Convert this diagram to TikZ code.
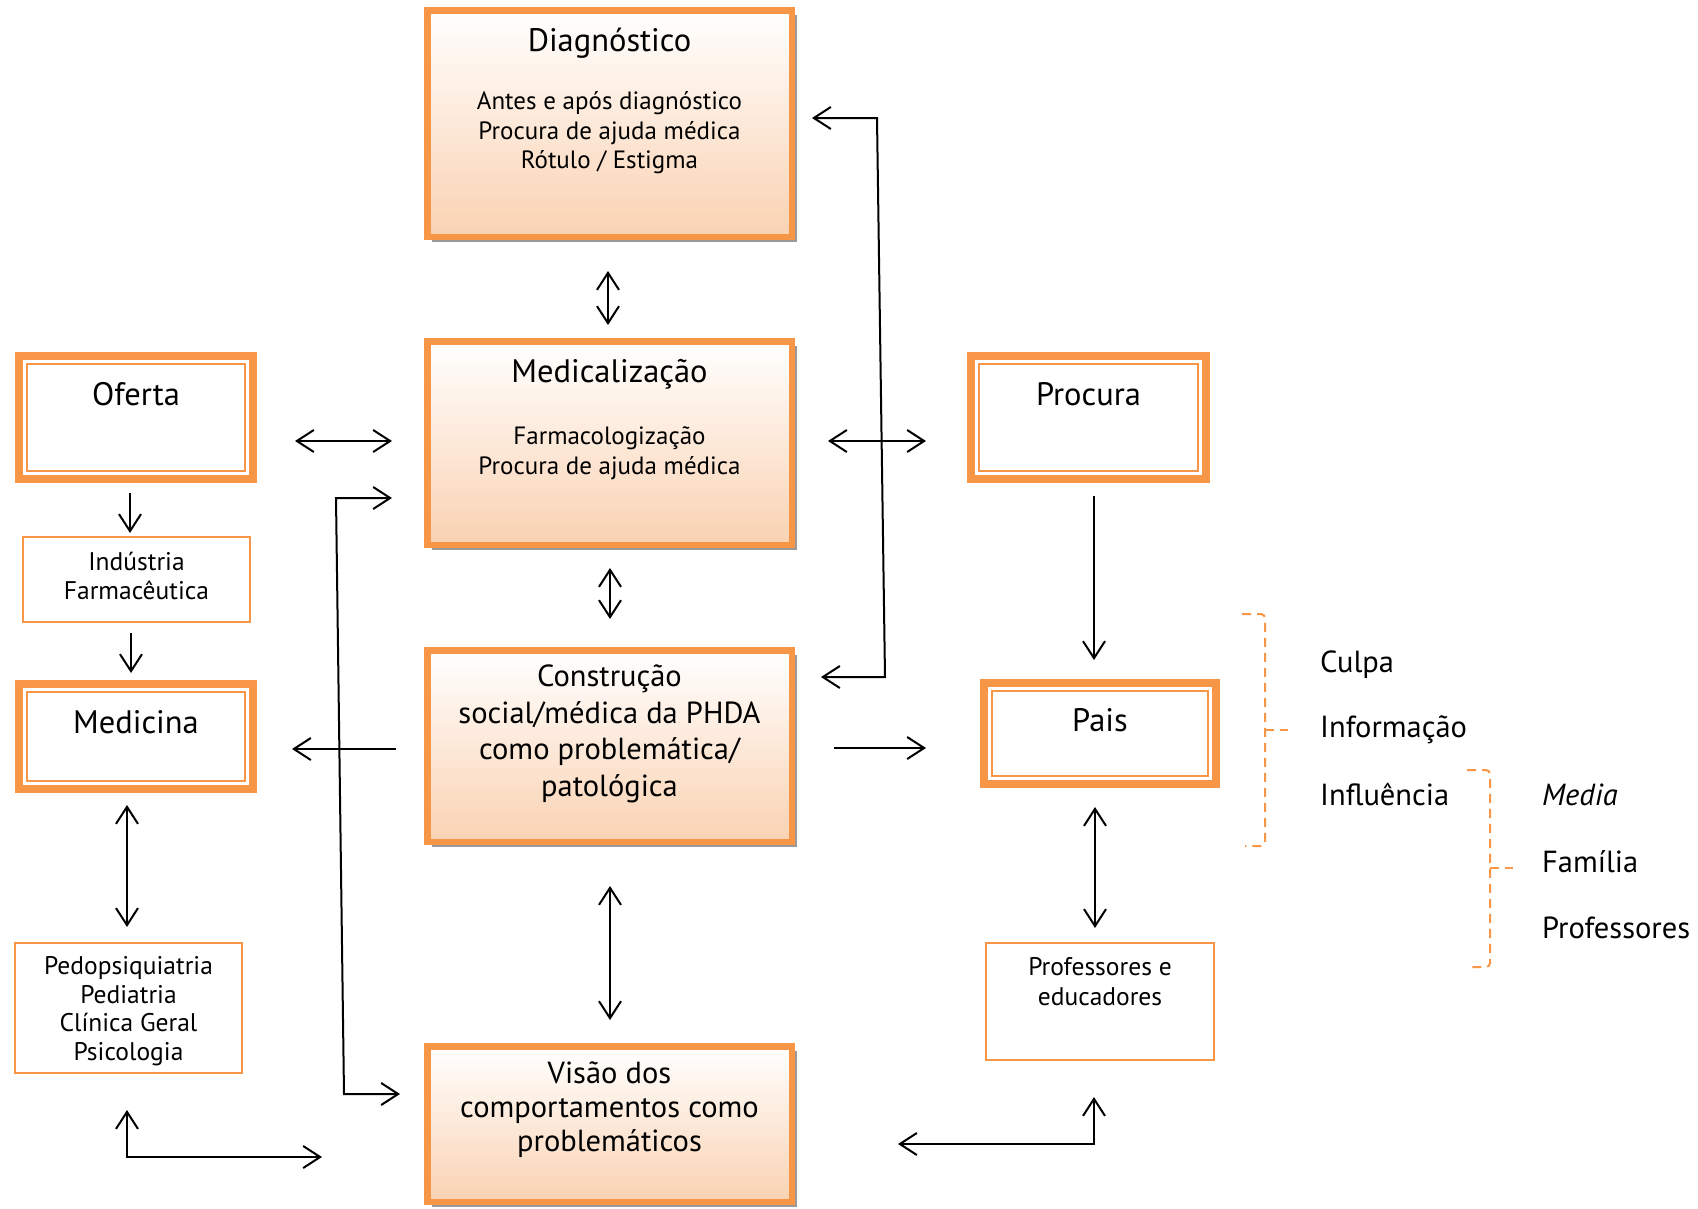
\documentclass[tikz,border=0pt]{standalone}
\usepackage{fontspec}
\setmainfont{PT Sans}
\usetikzlibrary{arrows.meta,calc,shadows}
\definecolor{org}{HTML}{F79646}
\definecolor{peach}{HTML}{FAD2B2}
\begin{document}
\begin{tikzpicture}[x=1pt,y=-1pt,
  >={Straight Barb[length=17pt,width=22pt]},
  conn/.style={line width=2pt, line join=miter},
  mainbox/.style={draw=org, line width=6.5pt, top color=white, bottom color=peach, inner sep=0pt,
    minimum width=364.5pt,
    drop shadow={shadow xshift=5pt, shadow yshift=-5pt, fill=black!40, opacity=1}},
  dblbox/.style={draw=org, line width=8pt, fill=white, inner sep=0pt},
  thinbox/.style={draw=org, line width=1.6pt, fill=white, inner sep=0pt, minimum width=227.5pt},
  ttl/.style={font=\fontsize{32.5}{38}\selectfont, inner sep=0pt},
  sub/.style={font=\fontsize{25}{29.5}\selectfont, align=center, inner sep=0pt},
  big/.style={font=\fontsize{30.5}{36.5}\selectfont, align=center, inner sep=0pt},
  small/.style={font=\fontsize{25.5}{29}\selectfont, align=center, inner sep=0pt},
  side/.style={font=\fontsize{30.5}{36}\selectfont, anchor=west, inner sep=0pt},
  brk/.style={draw=org, line width=2pt, dash pattern=on 9pt off 6pt, rounded corners=4pt},
]
\path[use as bounding box, fill=white] (0,0) rectangle (1698,1208);

% main boxes
\node[mainbox, minimum height=226.5pt] (diag) at (609.5,123.5) {};
\node[mainbox, minimum height=203.5pt] (medic) at (609.5,443) {};
\node[mainbox, minimum height=191.5pt] (constr) at (609.5,746) {};
\node[mainbox, minimum height=155.5pt] (visao) at (609.5,1124) {};

\node[ttl] (diagT) at (609.5,43) {Diagnóstico};
\node[sub] (diagS) at (609.5,133) {Antes e após diagnóstico\\Procura de ajuda médica\\Rótulo / Estigma};
\node[ttl] (medicT) at (609.5,374) {Medicalização};
\node[sub] (medicS) at (609.5,453) {Farmacologização\\Procura de ajuda médica};
\node[big] (constrT) at (609.5,734) {Construção\\social/médica da PHDA\\como problemática/\\patológica};
\node[big, font=\fontsize{30.5}{34}\selectfont] (visaoT) at (609.5,1110) {Visão dos\\comportamentos como\\problemáticos};

% double boxes
\node[dblbox, minimum width=234pt, minimum height=123pt] (oferta) at (136,417.5) {};
\node[dblbox, minimum width=234pt, minimum height=105pt] (medicina) at (136,736.5) {};
\node[dblbox, minimum width=235pt, minimum height=123pt] (procura) at (1088.5,417.5) {};
\node[dblbox, minimum width=232pt, minimum height=101pt] (pais) at (1100,733.5) {};
\foreach \b in {oferta,medicina,procura,pais}
  \draw[org, line width=1.5pt] ([shift={(12,12)}]\b.north west) rectangle ([shift={(-12,-12)}]\b.south east);
\node[ttl] (ofertaT) at ($(oferta.north)+(0,42)$) {Oferta};
\node[ttl] (medicinaT) at ($(medicina.north)+(0,42)$) {Medicina};
\node[ttl] (procuraT) at ($(procura.north)+(0,42)$) {Procura};
\node[ttl] (paisT) at ($(pais.north)+(0,41)$) {Pais};

% thin boxes
\node[thinbox, minimum height=85.5pt] (ind) at (136.5,579.5) {};
\node[small] (indT) at (136.5,576) {Indústria\\Farmacêutica};
\node[thinbox, minimum height=130.5pt] (pedo) at (128.5,1008) {};
\node[small, font=\fontsize{25.5}{28.5}\selectfont] (pedoT) at (128.5,1011) {Pedopsiquiatria\\Pediatria\\Clínica Geral\\Psicologia};
\node[thinbox, minimum width=228.5pt, minimum height=117.5pt] (prof) at (1100,1001.5) {};
\node[small, font=\fontsize{25.5}{30}\selectfont] (profT) at (1100,982) {Professores e\\educadores};

% connectors
\draw[conn,<->, shorten <=31pt, shorten >=13pt] (diag.south -| 608,0) -- (medic.north -| 608,0);
\draw[conn,<->, shorten <=20pt, shorten >=28pt] (medic.south -| 610,0) -- (constr.north -| 610,0);
\draw[conn,<->, shorten <=41pt, shorten >=23pt] (constr.south -| 610,0) -- (visao.north -| 610,0);
\draw[conn,<->, shorten <=38pt, shorten >=32pt] (oferta.east |- 0,441) -- (medic.west |- 0,441);
\draw[conn,<->, shorten <=33pt, shorten >=41pt] (medic.east |- 0,441) -- (procura.west |- 0,441);

\coordinate (lc1) at (336,498);
\coordinate (lc2) at (344,1094);
\draw[conn,<->, shorten <=32pt, shorten >=24pt] (medic.west |- lc1) -- (lc1) -- (lc2) -- (visao.west |- lc2);

\coordinate (rc1) at (877,118);
\coordinate (rc2) at (885,677);
\draw[conn,<->, shorten <=17pt, shorten >=26pt] (diag.east |- rc1) -- (rc1) -- (rc2) -- (constr.east |- rc2);

\draw[conn,->, shorten <=13pt, shorten >=19pt] (procura.south -| 1094,0) -- (pais.north -| 1094,0);
\draw[conn,->, shorten <=39pt, shorten >=54pt] (constr.east |- 0,748) -- (pais.west |- 0,748);
\draw[conn,->, shorten <=28pt, shorten >=35pt] (constr.west |- 0,749) -- (medicina.east |- 0,749);
\draw[conn,->, shorten <=10pt, shorten >=3pt] (oferta.south -| 130,0) -- (ind.north -| 130,0);
\draw[conn,->, shorten <=10pt, shorten >=7pt] (ind.south -| 131,0) -- (medicina.north -| 131,0);
\draw[conn,<->, shorten <=12pt, shorten >=15pt] (medicina.south -| 127,0) -- (pedo.north -| 127,0);
\draw[conn,<->, shorten <=19pt, shorten >=14pt] (pais.south -| 1095,0) -- (prof.north -| 1095,0);

\coordinate (bl) at (127,1157);
\draw[conn,<->, shorten <=36pt, shorten >=102pt] (pedo.south -| bl) -- (bl) -- (visao.west |- bl);
\coordinate (br) at (1094,1144);
\draw[conn,<->, shorten <=103pt, shorten >=36pt] (visao.east |- br) -- (br) -- (prof.south -| br);

% brackets
\draw[brk] (1242,614) -- (1265,614) -- (1265,846) -- (1245,846);
\draw[brk, rounded corners=0pt] (1265,730) -- (1288,730);
\draw[brk] (1467,770) -- (1490,770) -- (1490,967) -- (1467,967);
\draw[brk, rounded corners=0pt] (1490,868) -- (1513,868);

% side texts
\node[side] (culpa) at (1320,665) {Culpa};
\node[side] (info) at (1320,730) {Informação};
\node[side] (infl) at (1320,795) {Influência};
\node[side] (media) at (1542,795) {\itshape Media};
\node[side] (fam) at (1542,862) {Família};
\node[side] (profs) at (1542,928) {Professores};
\end{tikzpicture}
\end{document}
